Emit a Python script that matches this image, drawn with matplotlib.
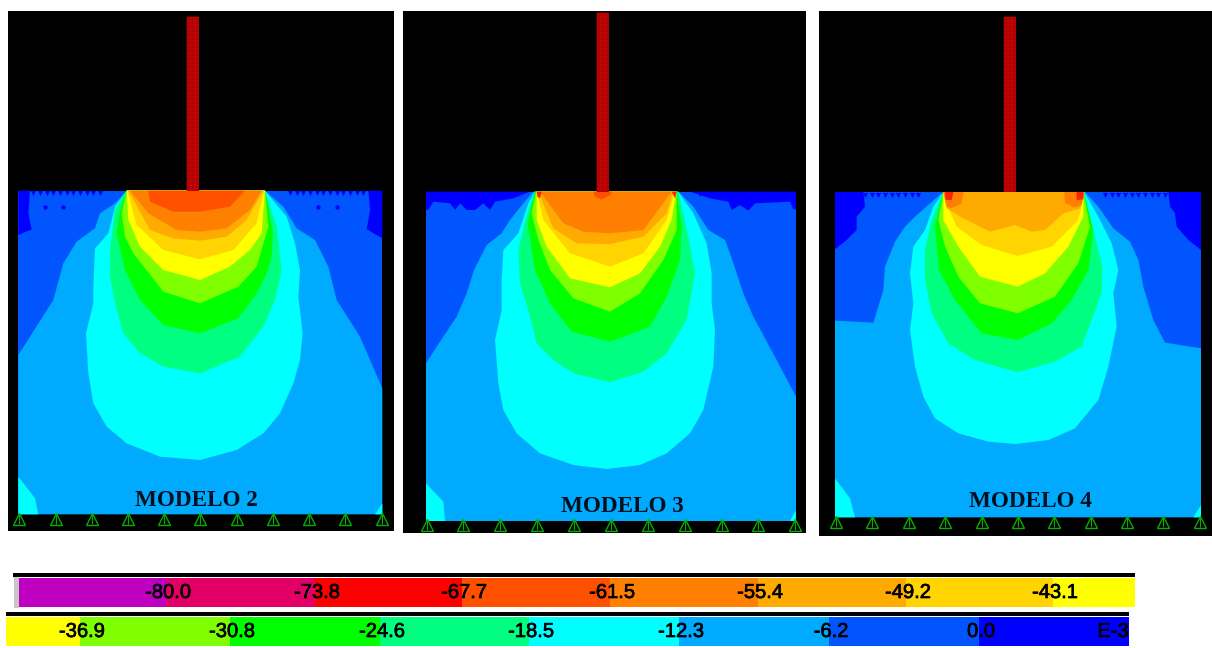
import numpy as np
from matplotlib import pyplot as plt
import matplotlib.patheffects as pe

W, H = 1212, 648

# colores de la escala SAP
row1_colors = ['#c000c0', '#e30066', '#ff0000', '#ff5000', '#ff8000', '#ffaa00', '#ffd400', '#ffff00']
row2_colors = ['#ffff00', '#80ff00', '#00ff00', '#00ff80', '#00ffff', '#00aaff', '#0055ff', '#0000ff']
row1_labels = ['-80.0', '-73.8', '-67.7', '-61.5', '-55.4', '-49.2', '-43.1']
row2_labels = ['-36.9', '-30.8', '-24.6', '-18.5', '-12.3', '-6.2', '0.0']
row1_edges = [19, 166, 315, 462, 610, 758, 906, 1053, 1135]
row2_edges = [6, 80, 230, 380, 529, 679, 829, 979, 1129]

# curvas de nivel (x, profundidad), de fuera hacia dentro
m2_deep = [[(55, 62), (90, 62), (85, 130), (95, 178), (55, 195)],
           [(1147, 62), (1105, 62), (1110, 120), (1100, 178), (1147, 205)]]
m2_levels = [
    ('#00aaff', [(380, 62), (345, 100), (300, 130), (285, 175), (230, 215), (190, 280), (160, 390), (90, 500), (55, 555), (55, 1033), (1147, 1033), (1147, 655), (1080, 500), (1010, 390), (985, 290), (945, 210), (890, 175), (850, 110), (795, 62)]),
    ('#00ffff', [(380, 62), (345, 110), (325, 190), (285, 235), (280, 350), (280, 400), (258, 490), (265, 610), (280, 700), (320, 770), (380, 820), (480, 860), (600, 870), (710, 840), (790, 790), (840, 730), (880, 640), (900, 570), (908, 490), (895, 380), (900, 300), (885, 220), (860, 140), (795, 62)]),
    ('#00ff80', [(380, 62), (345, 120), (330, 240), (330, 320), (345, 400), (370, 490), (420, 550), (490, 590), (600, 610), (720, 560), (790, 470), (825, 390), (845, 300), (830, 170), (795, 62)]),
    ('#00ff00', [(380, 62), (358, 130), (350, 190), (375, 300), (420, 390), (490, 465), (600, 490), (715, 445), (770, 370), (800, 310), (815, 260), (818, 180), (795, 62)]),
    ('#80ff00', [(380, 62), (365, 130), (375, 200), (400, 250), (490, 365), (600, 400), (715, 350), (770, 290), (805, 170), (795, 62)]),
    ('#ffff00', [(380, 62), (385, 150), (420, 230), (490, 300), (600, 330), (690, 290), (750, 240), (785, 190), (795, 62)]),
    ('#ffd400', [(382, 62), (410, 165), (490, 240), (600, 268), (700, 240), (770, 160), (793, 62)]),
    ('#ffaa00', [(385, 62), (450, 180), (520, 205), (600, 212), (680, 200), (740, 150), (790, 62)]),
    ('#ff8000', [(390, 62), (445, 130), (530, 180), (600, 185), (680, 175), (750, 120), (785, 62)]),
    ('#ff5000', [(445, 62), (450, 95), (520, 125), (600, 125), (690, 110), (735, 62)]),
    ('#00ffff', [(55, 920), (105, 985), (115, 1033), (55, 1033)]),
    ('#00ffff', [(1147, 1000), (1125, 1033), (1147, 1033)]),
]
m2_teeth = [100, 120, 140, 160, 180, 200, 220, 240, 260, 280, 300, 870, 890, 910, 930, 950, 970, 990, 1010, 1030, 1050, 1070, 1090]
m2_spots = [135, 190, 955, 1010]
m2_supports = [57, 167, 275, 384, 492, 601, 710, 818, 927, 1036, 1145]

m3_deep = [[(78, 65), (390, 65), (340, 85), (285, 95), (270, 120), (250, 100), (225, 120), (200, 120), (180, 100), (165, 120), (150, 100), (100, 95), (85, 120), (78, 120)],
           [(1188, 65), (870, 65), (930, 85), (985, 95), (995, 120), (1020, 105), (1045, 122), (1065, 100), (1170, 95), (1180, 118), (1188, 118)]]
m3_levels = [
    ('#00aaff', [(400, 65), (370, 100), (330, 150), (305, 190), (260, 225), (222, 300), (200, 370), (170, 440), (110, 530), (78, 580), (78, 1053), (1188, 1053), (1188, 680), (1130, 570), (1060, 440), (1030, 370), (990, 250), (975, 210), (925, 180), (880, 110), (835, 65)]),
    ('#00ffff', [(405, 65), (385, 100), (355, 190), (310, 240), (305, 330), (305, 420), (285, 510), (295, 640), (310, 720), (350, 790), (420, 850), (520, 885), (620, 897), (720, 885), (800, 850), (870, 790), (910, 720), (940, 590), (945, 480), (935, 400), (935, 310), (920, 220), (880, 130), (835, 65)]),
    ('#00ff80', [(405, 65), (382, 130), (355, 240), (360, 340), (390, 440), (410, 520), (460, 570), (520, 610), (630, 637), (730, 605), (800, 550), (860, 450), (885, 310), (865, 200), (835, 65)]),
    ('#00ff00', [(405, 65), (383, 160), (405, 300), (450, 400), (515, 485), (630, 515), (750, 470), (800, 380), (840, 270), (845, 170), (830, 65)]),
    ('#80ff00', [(408, 65), (395, 130), (415, 210), (450, 300), (520, 385), (630, 425), (720, 370), (790, 270), (830, 180), (830, 65)]),
    ('#ffff00', [(410, 65), (410, 150), (440, 230), (510, 325), (630, 352), (720, 310), (780, 230), (815, 150), (828, 65)]),
    ('#ffd400', [(410, 65), (430, 150), (510, 250), (630, 290), (730, 250), (800, 150), (825, 65)]),
    ('#ffaa00', [(415, 65), (460, 175), (530, 220), (630, 222), (730, 200), (800, 130), (820, 65)]),
    ('#ff8000', [(420, 65), (490, 160), (550, 185), (630, 190), (730, 180), (760, 140), (815, 65)]),
    ('#ff5000', [(580, 65), (585, 80), (605, 88), (632, 75), (635, 65)]),
    ('#ff2000', [(410, 65), (425, 65), (420, 85), (412, 80)]),
    ('#ff2000', [(815, 65), (830, 65), (825, 85)]),
    ('#00ffff', [(78, 940), (130, 995), (135, 1053), (78, 1053)]),
    ('#00ffff', [(1188, 1020), (1170, 1053), (1188, 1053)]),
]
m3_teeth = [100, 125, 150, 175, 200, 225, 250, 275, 300, 325, 350, 900, 925, 950, 975, 1000, 1025, 1050, 1075, 1100, 1125, 1150]
m3_spots = []
m3_supports = [80, 190, 300, 411, 522, 632, 743, 854, 965, 1075, 1186]

m4_deep = [[(60, 66), (145, 66), (150, 110), (125, 140), (125, 180), (95, 210), (60, 238)],
           [(1158, 66), (1060, 66), (1065, 110), (1080, 130), (1085, 170), (1120, 210), (1158, 240)]]
m4_levels = [
    ('#00aaff', [(385, 66), (345, 100), (300, 140), (270, 170), (240, 215), (210, 290), (205, 360), (175, 458), (60, 452), (60, 1042), (1158, 1042), (1158, 535), (1050, 518), (1015, 450), (985, 350), (970, 270), (945, 215), (895, 175), (850, 110), (810, 66)]),
    ('#00ffff', [(385, 66), (355, 110), (330, 180), (295, 230), (285, 310), (295, 400), (285, 480), (300, 590), (325, 680), (360, 745), (430, 790), (520, 815), (600, 822), (700, 810), (780, 775), (850, 690), (880, 590), (905, 470), (895, 370), (910, 300), (890, 220), (850, 140), (808, 66)]),
    ('#00ff80', [(385, 66), (350, 150), (330, 240), (330, 330), (350, 430), (400, 520), (480, 570), (608, 607), (720, 575), (800, 530), (860, 370), (862, 290), (835, 180), (808, 66)]),
    ('#00ff00', [(385, 66), (360, 170), (372, 300), (420, 390), (500, 490), (608, 510), (710, 460), (770, 390), (820, 300), (835, 180), (805, 66)]),
    ('#80ff00', [(385, 66), (370, 150), (390, 230), (430, 320), (495, 400), (608, 430), (720, 380), (790, 280), (825, 170), (805, 66)]),
    ('#ffff00', [(385, 66), (385, 150), (430, 230), (495, 320), (608, 350), (690, 310), (760, 230), (805, 140), (805, 66)]),
    ('#ffd400', [(385, 66), (390, 90), (425, 170), (500, 225), (608, 258), (710, 230), (790, 150), (805, 85), (805, 66)]),
    ('#ffaa00', [(385, 66), (395, 115), (445, 145), (525, 185), (600, 165), (650, 185), (690, 180), (745, 130), (795, 115), (808, 66)]),
    ('#ff8000', [(385, 66), (445, 66), (440, 100), (410, 115), (395, 110)]),
    ('#ff8000', [(808, 66), (748, 66), (750, 100), (780, 112), (800, 105)]),
    ('#ff2000', [(390, 66), (415, 66), (410, 90), (392, 90)]),
    ('#ff2000', [(785, 66), (805, 66), (805, 88), (785, 90)]),
    ('#00ffff', [(60, 925), (105, 985), (120, 1042), (60, 1042)]),
    ('#00ffff', [(1158, 1005), (1135, 1042), (1158, 1042)]),
]
m4_teeth = [150, 170, 190, 210, 230, 250, 270, 290, 310, 870, 890, 910, 930, 950, 970, 990, 1010, 1030, 1050]
m4_spots = []
m4_supports = [62, 172, 281, 391, 500, 608, 718, 827, 936, 1045, 1155]

fig = plt.figure(figsize=(W / 100, H / 100), dpi=100, facecolor='white')


# ejes colocados en pixeles de la imagen
def pixel_axes(x0, y0, x1, y1):
    ax = fig.add_axes([x0 / W, 1 - y1 / H, (x1 - x0) / W, (y1 - y0) / H])
    ax.set_axis_off()
    return ax


def draw_model(box, xlim, ylim, soil, column, deep, levels, teeth, spots, supports, name, name_xy):
    ax = pixel_axes(*box)
    ax.set_xlim(*xlim)
    ax.set_ylim(*ylim)
    ax.fill([xlim[0], xlim[1], xlim[1], xlim[0]], [ylim[0], ylim[0], ylim[1], ylim[1]], color='black', lw=0)
    left, right, top, bottom = soil
    ax.fill([left, right, right, left], [top, top, bottom, bottom], color='#0055ff', lw=0)
    for poly in deep:
        xs, ys = zip(*poly)
        ax.fill(xs, ys, color='#0000ff', lw=0)
    ax.scatter(teeth, [top + 8] * len(teeth), marker='v', s=14, color='#0000ff', lw=0)
    if spots:
        ax.scatter(spots, [top + 50] * len(spots), marker='o', s=10, color='#0000ff', lw=0)
    for color, poly in levels:
        xs, ys = zip(*poly)
        ax.fill(xs, ys, color=color, lw=0)

    # columna con su malla
    c0, c1, c_top = column
    ax.fill([c0, c1, c1, c0], [c_top, c_top, top, top], color='#b00000', lw=0)
    ax.hlines(np.arange(c_top, top, 12), c0, c1, color='#d81010', lw=0.35)
    ax.vlines(np.arange(c0, c1, 12), c_top, top, color='#d81010', lw=0.35)

    # apoyos
    ax.plot(supports, [bottom + 13] * len(supports), ls='', marker='^', ms=8, mfc='none', mec='#00b000', mew=1.0)
    ax.plot(supports, [bottom + 13] * len(supports), ls='', marker='|', ms=7, mec='#00b000', mew=0.8)
    ax.text(name_xy[0], name_xy[1], name, family='Liberation Serif', weight='bold', fontsize=16.7,
            color='#00101e', ha='center', va='center')
    ax.set_ylim(*ylim)
    ax.set_xlim(*xlim)


draw_model((8, 11, 394, 531), (24, 1182), (1083, -477), (55, 1147, 62, 1033), (561, 597, -459),
           m2_deep, m2_levels, m2_teeth, m2_spots, m2_supports, 'MODELO 2', (590, 992))
draw_model((403, 11, 806, 533), (9, 1218), (1089, -477), (78, 1188, 65, 1053), (591, 627, -471),
           m3_deep, m3_levels, m3_teeth, m3_spots, m3_supports, 'MODELO 3', (668, 1010))
draw_model((819, 11, 1212, 536), (12, 1191), (1098, -477), (60, 1158, 66, 1042), (567, 603, -459),
           m4_deep, m4_levels, m4_teeth, m4_spots, m4_supports, 'MODELO 4', (645, 995))


# barra de la escala
def draw_scale(y0, y1, edges, colors, labels, extra=None):
    ax = pixel_axes(0, y0, W, y1)
    ax.set_xlim(0, W)
    ax.set_ylim(0, 1)
    ax.barh(0.5, np.diff(edges), left=edges[:-1], height=1, color=colors, lw=0)
    outline = [pe.withStroke(linewidth=0.5, foreground='black')]
    for x, s in zip(edges[1:-1], labels):
        ax.text(x + 2, 0.5, s, ha='center', va='center', fontsize=14.5, color='black',
                family='Liberation Sans', path_effects=outline)
    if extra:
        ax.text(extra[0], 0.5, extra[1], ha='center', va='center', fontsize=14.5, color='black',
                family='Liberation Sans', path_effects=outline)


# lineas negras y borde gris de las barras
top_line = pixel_axes(13, 573, 1135, 577)
top_line.set_xlim(0, 1)
top_line.set_ylim(0, 1)
top_line.barh(0.5, 1, left=0, height=1, color='black', lw=0)
border = pixel_axes(14, 577, 19, 608)
border.set_xlim(0, 1)
border.set_ylim(0, 1)
border.barh(0.5, 1, left=0, height=1, color='#c8c8c0', lw=0)
second_line = pixel_axes(6, 612, 1129, 616)
second_line.set_xlim(0, 1)
second_line.set_ylim(0, 1)
second_line.barh(0.5, 1, left=0, height=1, color='black', lw=0)

draw_scale(578, 607, row1_edges, row1_colors, row1_labels)
draw_scale(617, 646, row2_edges, row2_colors, row2_labels, extra=(1113, 'E-3'))

fig.savefig('out.png', dpi=100)
